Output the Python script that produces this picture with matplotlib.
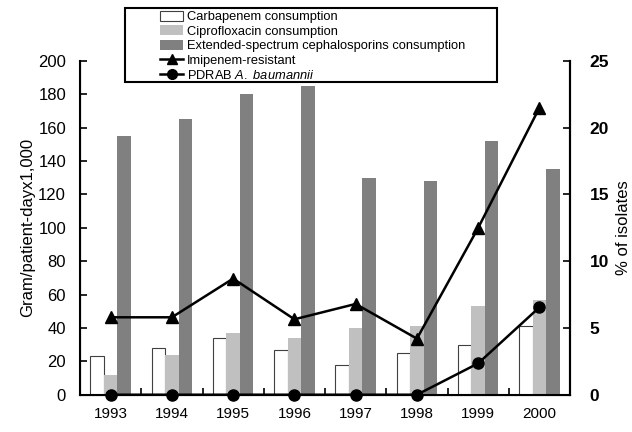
import matplotlib
matplotlib.use("Agg")
import matplotlib.pyplot as plt
import numpy as np
from matplotlib.patches import Patch, Rectangle
from matplotlib.lines import Line2D

plt.rcParams['font.family'] = ['Liberation Sans', 'DejaVu Sans']
plt.rcParams['mathtext.fontset'] = 'custom'
plt.rcParams['mathtext.rm'] = 'Liberation Sans'
plt.rcParams['mathtext.it'] = 'Liberation Sans:italic'

years = ['1993', '1994', '1995', '1996', '1997', '1998', '1999', '2000']
carbapenem = [23, 28, 34, 27, 18, 25, 30, 41]
ciprofloxacin = [12, 24, 37, 34, 40, 41, 53, 57]
cephalosporins = [155, 165, 180, 185, 130, 128, 152, 135]
imipenem_resistant = [5.8, 5.8, 8.7, 5.65, 6.8, 4.2, 12.5, 21.5]
pdrab = [0, 0, 0, 0, 0, 0, 2.35, 6.55]

fig = plt.figure(figsize=(6.32, 4.32), dpi=100)
ax = fig.add_axes([0.1266, 0.0863, 0.902 - 0.1266, 0.8588 - 0.0863])
x = np.arange(len(years))
w = 0.22

ax.bar(x - w, carbapenem, w, color='white', edgecolor='#404040', linewidth=0.8)
ax.bar(x, ciprofloxacin, w, color='#c0c0c0', edgecolor='none')
ax.bar(x + w, cephalosporins, w, color='#808080', edgecolor='none')

ax.set_xlim(-0.5, len(years) - 0.5)
ax.set_ylim(0, 200)
ax.set_yticks(np.arange(0, 201, 20))
ax.set_xticks(x)
ax.set_xticklabels(years)
ax.set_xticks(np.arange(0.5, len(years) - 0.5, 1), minor=True)
ax.tick_params(axis='x', which='major', length=0, pad=9, labelsize=11)
ax.tick_params(axis='x', which='minor', direction='in', length=5, width=1.2)
ax.tick_params(axis='y', direction='in', length=5, width=1.2, labelsize=12, pad=10)
ax.spines['top'].set_visible(False)
for s in ['left', 'bottom', 'right']:
    ax.spines[s].set_linewidth(1.5)
ax.set_ylabel('Gram/patient-dayx1,000', fontsize=12, labelpad=2)

ax2 = ax.twinx()
ax2.set_ylim(0, 25)
ax2.set_yticks(np.arange(0, 26, 5))
ax2.tick_params(axis='y', direction='in', length=5, width=1.2, labelsize=12.5, pad=14)
for lab in ax2.get_yticklabels():
    lab.set_fontweight('bold')
ax2.spines['top'].set_visible(False)
ax2.spines['right'].set_linewidth(1.5)
ax2.set_ylabel('% of isolates', fontsize=12, labelpad=5)

ax2.plot(x, imipenem_resistant, color='black', lw=1.8, marker='^', markersize=9, clip_on=False, zorder=5)
ax2.plot(x, pdrab, color='black', lw=1.8, marker='o', markersize=8, clip_on=False, zorder=5)

handles = [
    Patch(facecolor='white', edgecolor='#404040', linewidth=0.8),
    Patch(facecolor='#c0c0c0', edgecolor='none'),
    Patch(facecolor='#808080', edgecolor='none'),
    Line2D([], [], color='black', lw=1.8, marker='^', markersize=7),
    Line2D([], [], color='black', lw=1.8, marker='o', markersize=7),
]
labels = ['Carbapenem consumption', 'Ciprofloxacin consumption',
          'Extended-spectrum cephalosporins consumption', 'Imipenem-resistant',
          'PDRAB $\\it{A.\\ baumannii}$']
leg = fig.legend(handles, labels, loc='upper left', bbox_to_anchor=(151 / 632, 1 - 2 / 432),
                 frameon=False, fontsize=9.3, handlelength=1.8, handleheight=0.8,
                 handletextpad=0.3, labelspacing=0.15, borderpad=0.2)
fig.add_artist(Rectangle((125 / 632, 1 - 82 / 432), (497 - 125) / 632, (82 - 8) / 432,
                         transform=fig.transFigure, fill=False, edgecolor='black', linewidth=1.5))

fig.savefig('out.png', dpi=100)
